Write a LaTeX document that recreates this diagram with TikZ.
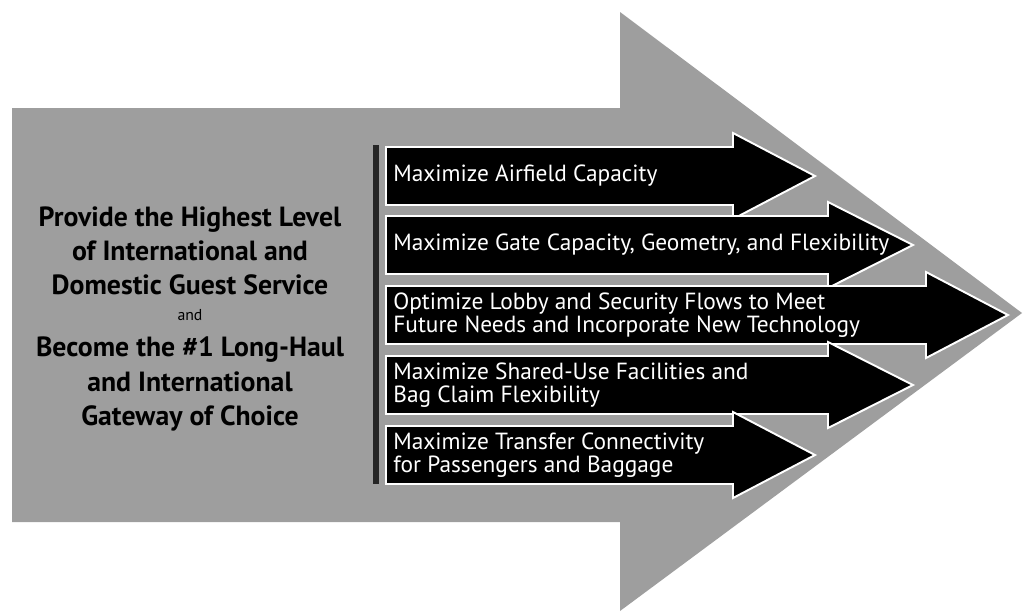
\documentclass[tikz,border=0pt]{standalone}
\usepackage{fontspec}
\setmainfont{PT Sans}
\usepackage{tikz}
\usetikzlibrary{calc,positioning}
\definecolor{speckle}{gray}{0.62}

\begin{document}
\begin{tikzpicture}[x=0.02cm,y=-0.02cm,
    bigarrow/.style={fill=speckle,draw=none},
    goalarrow/.style={fill=black,draw=white,line width=1.1pt,line join=miter},
    goal/.style={anchor=west,text=white,font=\fontsize{13.3}{13}\selectfont,align=left,inner sep=0pt},
    aim/.style={font=\bfseries\fontsize{15.8}{19.5}\selectfont,align=center,inner sep=0pt}]
    \useasboundingbox (0,0) rectangle (1026,613);

    % the big arrow behind everything
    \draw[bigarrow] (12,108) -- (620,108) -- (620,12) -- (1022,313)
      -- (620,611) -- (620,522) -- (12,522) -- cycle;
    \draw[black!85,line width=3pt] (376,145) -- (376,484);

    % the five goals
    \foreach \t/\e/\p in {147/733/815, 216/828/913, 286/926/1008, 356/828/913, 426/733/815}
      \draw[goalarrow] (386,\t) -- (\e,\t) -- (\e,\t-14) -- (\p,\t+29)
        -- (\e,\t+72) -- (\e,\t+58) -- (386,\t+58) -- cycle;

    \node[goal] (airfield) at (393,176) {Maximize Airfield Capacity};
    \node[goal] (gate) at (393,245) {Maximize Gate Capacity, Geometry, and Flexibility};
    \node[goal] (lobby) at (393,315) {Optimize Lobby and Security Flows to Meet\\Future Needs and Incorporate New Technology};
    \node[goal] (shared) at (393,385) {Maximize Shared-Use Facilities and\\Bag Claim Flexibility};
    \node[goal] (transfer) at (393,455) {Maximize Transfer Connectivity\\for Passengers and Baggage};

    % mission text
    \node[aim] (service) at (190,251) {Provide the Highest Level\\of International and\\Domestic Guest Service};
    \node[font=\fontsize{9}{10}\selectfont,inner sep=0pt] (and) at (190,315) {and};
    \node[aim] (gateway) at (190,384) {Become the \#1 Long-Haul\\and International\\Gateway of Choice};
  \end{tikzpicture}
\end{document}
